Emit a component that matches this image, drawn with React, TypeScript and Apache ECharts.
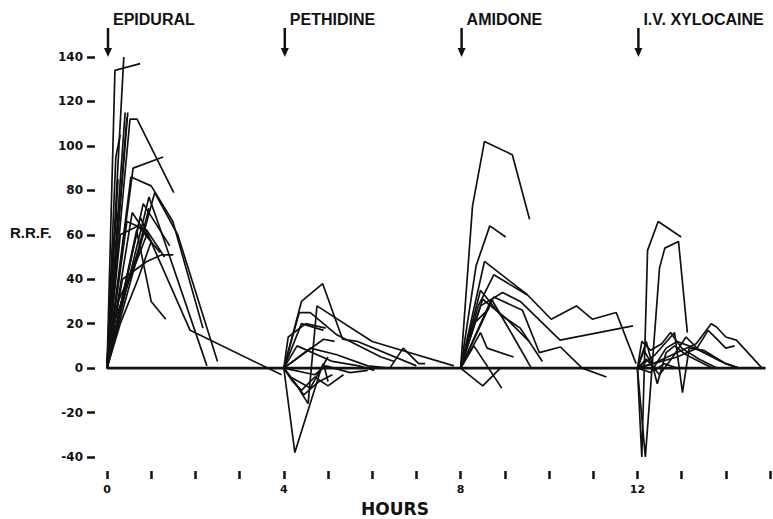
import React, { useEffect, useRef } from "react";
import * as echarts from "echarts";

// ---- data (hours, R.R.F.) ----
const epidural: number[][][] = [
  [[0, 0], [0.18, 134], [0.75, 137]],
  [[0, 0], [0.38, 140]],
  [[0, 0], [0.41, 115]],
  [[0, 0], [0.45, 113]],
  [[0, 0], [0.47, 115]],
  [[0, 0], [0.52, 112], [0.68, 112], [1.51, 79]],
  [[0, 0], [0.59, 90], [1.27, 95]],
  [[0, 0], [0.54, 86], [1.0, 82], [1.49, 66], [2.17, 18]],
  [[0, 0], [1.08, 79], [1.6, 60], [2.5, 3]],
  [[0, 0], [0.95, 77], [1.25, 60], [2.26, 1]],
  [[0, 0], [0.82, 74], [1.42, 55]],
  [[0, 0], [0.57, 70], [1.0, 57]],
  [[0, 0], [0.45, 66], [0.9, 62], [1.3, 50]],
  [[0, 0], [0.35, 40], [0.9, 48], [1.24, 51], [1.5, 51]],
  [[0, 0], [0.67, 62], [1.0, 30], [1.33, 22]],
  [[0, 0], [0.75, 68], [1.88, 17], [3.95, -3]],
  [[0, 0], [0.3, 60], [0.7, 64], [1.2, 52]],
  [[0, 0], [0.25, 30], [0.6, 45], [0.95, 72]],
  [[0, 0], [0.15, 20], [0.55, 42], [0.9, 60]],
  [[0, 0], [0.2, 95], [0.3, 105]],
  [[0, 0], [0.25, 85]],
  [[0, 0], [0.3, 20], [0.7, 40], [1.0, 57]],
  [[0, 0], [0.12, 50], [0.22, 70]],
  [[0, 0], [0.4, 35], [0.75, 55]],
];

const pethidine: number[][][] = [
  [[4, 0], [4.4, 30], [4.88, 38], [5.33, 13], [5.67, 12], [7.0, 1]],
  [[4, 0], [4.3, -8], [4.55, -16], [4.75, 28], [6.0, 12], [7.85, 1]],
  [[4, 0], [4.35, 25], [4.6, 25], [5.2, 15], [6.2, 5], [6.5, 3]],
  [[4, 0], [4.4, 20], [4.9, 17]],
  [[4, 0], [4.9, 13], [5.15, 12]],
  [[4, 0], [4.25, -38], [4.85, 0], [5.0, 5]],
  [[4, 0], [4.6, 9], [5.2, 6], [5.9, 1], [6.4, 0], [6.7, 9], [7.05, 2], [7.2, 2]],
  [[4, 0], [4.2, -6], [4.4, -10], [4.7, -4], [5.0, -8], [5.35, -3]],
  [[4, 0], [4.45, -12], [4.8, -6], [5.1, -3]],
  [[4, 0], [4.7, -3], [4.95, 1], [5.5, -2], [5.9, -1]],
  [[4, 0], [4.1, 14], [4.5, 20], [4.95, 18]],
  [[4, 0], [4.3, 10], [5.1, 3], [5.7, 1], [6.05, -1]],
  [[4, 0], [4.15, -4], [4.6, -9], [4.9, 2], [5.0, -6]],
];

const amidone: number[][][] = [
  [[8, 0], [8.27, 73], [8.54, 102], [9.17, 96], [9.56, 67]],
  [[8, 0], [8.35, 46], [8.66, 64], [9.02, 59]],
  [[8, 0], [8.54, 48], [9.51, 33], [10.05, 22], [10.62, 28], [10.98, 22], [11.52, 25], [11.97, 2]],
  [[8, 0], [8.4, 28], [8.75, 42], [9.5, 33]],
  [[8, 0], [8.45, 28], [8.95, 34], [9.35, 30], [10.25, 12.6], [11.9, 19]],
  [[8, 0], [8.75, 32], [9.4, 26], [9.78, 7], [10.26, 9.5], [10.75, 0], [11.3, -4]],
  [[8, 0], [8.5, 31], [9.05, 22], [9.55, 12]],
  [[8, 0], [8.7, 31], [9.2, 14], [9.6, 0]],
  [[8, 0], [8.5, -8], [8.9, 0]],
  [[8, 0], [8.3, 10], [8.93, -9]],
  [[8, 0], [8.3, 20], [8.65, 27]],
  [[8, 0], [8.45, 16], [8.6, 9], [9.2, 5]],
  [[8, 0], [8.45, 35], [8.9, 24], [9.35, 18], [9.85, 3]],
];

const xylocaine: number[][][] = [
  [[12, 0], [12.1, -40], [12.23, 53], [12.47, 66], [12.99, 59]],
  [[12, 0], [12.18, -40], [12.5, 45], [12.62, 54], [12.93, 57], [13.13, 16]],
  [[12, 0], [12.35, 2], [13.33, 11], [13.67, 20], [13.79, 18.5], [14.0, 14], [14.24, 12.6], [14.82, 0]],
  [[12, 0], [12.9, 5], [13.35, 9], [13.6, 17], [13.85, 12], [14.0, 9], [14.2, 10]],
  [[12, 0], [12.4, 6], [12.84, 16], [13.02, -11], [13.17, 9], [13.5, 8], [14.0, 2], [14.3, 0]],
  [[12, 0], [12.2, 12], [12.45, -7], [12.65, 7], [12.84, 10], [13.1, 6], [13.5, 2], [13.7, 0]],
  [[12, 0], [12.1, 12], [12.3, 8], [12.55, 11], [12.75, 16], [13.0, 9], [13.4, 4], [13.8, 0]],
  [[12, 0], [12.3, -2], [12.65, 9], [12.9, 12], [13.3, 9], [13.6, 6], [14.0, 2], [14.3, 0]],
  [[12, 0], [12.2, 4], [12.5, -3], [12.8, 5], [13.1, 14], [13.4, 8], [13.9, 3]],
  [[12, 0], [12.15, 8], [12.4, -1], [12.6, 2], [12.9, 0]],
];

const baseline: number[][] = [[0, 0], [14.9, 0]];
const doseHours = [0, 4, 8, 12];
const doseLabels = ["EPIDURAL", "PETHIDINE", "AMIDONE", "I.V. XYLOCAINE"];
const xLabelHours = [0, 4, 8, 12];

const INK = "#111";
const FONT = "'Liberation Sans', Arial, sans-serif";

export default function App() {
  const ref = useRef<HTMLDivElement>(null);
  useEffect(() => {
    if (!ref.current) return;
    const chart = echarts.init(ref.current, undefined, { renderer: "svg" });
    const all = [...epidural, ...pethidine, ...amidone, ...xylocaine];
    const series: any[] = all.map((d) => ({
      type: "line",
      data: d,
      symbol: "none",
      showSymbol: false,
      silent: true,
      lineStyle: { color: INK, width: 1.7 },
      z: 2,
    }));
    series.push({
      type: "line",
      data: baseline,
      symbol: "none",
      silent: true,
      lineStyle: { color: INK, width: 2.6 },
      z: 3,
    });
    const tickStyle = { color: INK, width: 2.5 };
    chart.setOption({
      animation: false,
      backgroundColor: "#fff",
      grid: { left: 107, right: 2, top: 57, bottom: 62 },
      xAxis: {
        type: "value",
        min: 0,
        max: 15,
        interval: 1,
        offset: 14,
        axisLine: { show: true, onZero: false, lineStyle: { color: "rgba(0,0,0,0)", width: 0 } },
        splitLine: { show: false },
        axisTick: { show: true, inside: false, length: 8, lineStyle: tickStyle },
        axisLabel: {
          margin: 13,
          color: INK,
          fontWeight: "bold",
          fontSize: 11,
          fontFamily: "'DejaVu Sans', sans-serif",
          showMaxLabel: true,
          formatter: (v: number) => (xLabelHours.includes(v) ? String(v) : ""),
        },
      },
      yAxis: {
        type: "value",
        min: -40,
        max: 140,
        interval: 20,
        offset: 12,
        axisLine: { show: true, onZero: false, lineStyle: { color: "rgba(0,0,0,0)", width: 0 } },
        splitLine: { show: false },
        axisTick: { show: true, inside: false, length: 8, lineStyle: tickStyle },
        axisLabel: {
          margin: 12,
          color: INK,
          fontWeight: "bold",
          fontSize: 12,
          fontFamily: "'DejaVu Sans', sans-serif",
        },
      },
      series,
    });

    const graphic: any[] = [];
    doseHours.forEach((h, i) => {
      const x = chart.convertToPixel({ xAxisIndex: 0, yAxisIndex: 0 }, [h, 0])[0] + 1;
      graphic.push({
        type: "line",
        shape: { x1: x, y1: 28, x2: x, y2: 50 },
        style: { stroke: INK, lineWidth: 2.5 },
        silent: true,
      });
      graphic.push({
        type: "polygon",
        shape: { points: [[x - 4, 48], [x + 4, 48], [x, 57]] },
        style: { fill: INK },
        silent: true,
      });
      graphic.push({
        type: "text",
        x: x + 5,
        y: 11,
        style: {
          text: doseLabels[i],
          fill: INK,
          font: `bold 16px ${FONT}`,
          textVerticalAlign: "top",
        },
        silent: true,
      });
    });
    const yR = chart.convertToPixel({ xAxisIndex: 0, yAxisIndex: 0 }, [0, 61])[1];
    graphic.push({
      type: "text",
      x: 10,
      y: yR,
      style: { text: "R.R.F.", fill: INK, font: `bold 15px ${FONT}`, textVerticalAlign: "middle" },
      silent: true,
    });
    graphic.push({
      type: "text",
      x: 395,
      y: 500,
      style: {
        text: "HOURS",
        fill: INK,
        font: "bold 17px 'DejaVu Sans', sans-serif",
        textAlign: "center",
        textVerticalAlign: "top",
      },
      silent: true,
    });
    chart.setOption({ graphic });
    return () => chart.dispose();
  }, []);
  return (
    <div
      ref={ref}
      style={{ position: "absolute", left: 0, top: 0, width: 773, height: 519, background: "#fff" }}
    />
  );
}
